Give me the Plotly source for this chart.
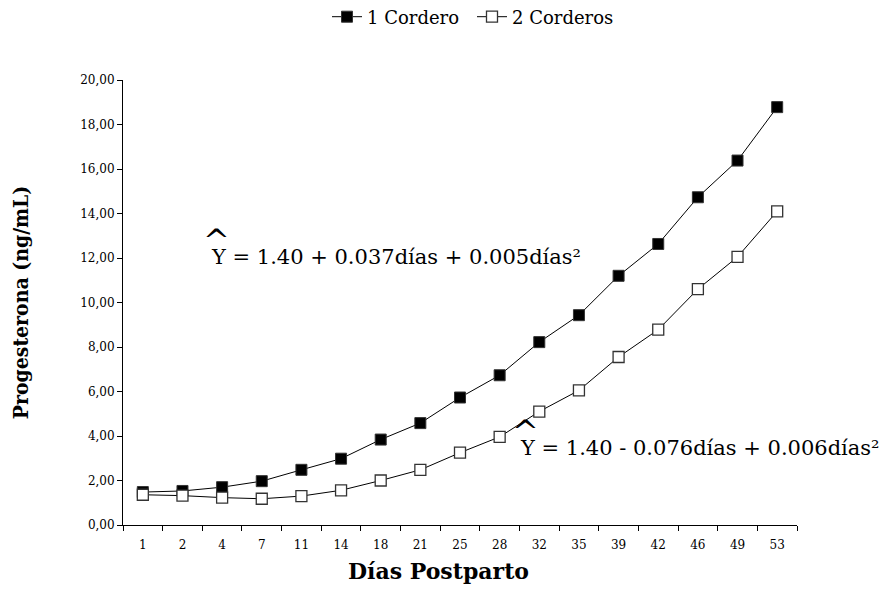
import plotly.graph_objects as go

dias = ["1", "2", "4", "7", "11", "14", "18", "21", "25", "28", "32", "35", "39", "42", "46", "49", "53"]
un_cordero = [1.48, 1.53, 1.70, 1.97, 2.48, 2.98, 3.84, 4.58, 5.73, 6.73, 8.22, 9.43, 11.20, 12.63, 14.73, 16.38, 18.78]
dos_corderos = [1.36, 1.32, 1.23, 1.18, 1.30, 1.56, 2.00, 2.48, 3.25, 3.96, 5.10, 6.05, 7.55, 8.78, 10.60, 12.05, 14.10]
y_ticks = [0, 2, 4, 6, 8, 10, 12, 14, 16, 18, 20]
y_ticktext = ["0,00", "2,00", "4,00", "6,00", "8,00", "10,00", "12,00", "14,00", "16,00", "18,00", "20,00"]
ecuacion_1 = "Y = 1.40 + 0.037días + 0.005días²"
ecuacion_2 = "Y = 1.40 - 0.076días + 0.006días²"
titulo_x = "<b>Días Postparto</b>"
titulo_y = "<b>Progesterona (ng/mL)</b>"

serif = "DejaVu Serif"
OFF = 8  # page body margin
W, H = 890 - OFF, 604 - OFF
L, R, T, B = 123 - OFF, 93, 80 - OFF, 79

fig = go.Figure()
fig.add_trace(go.Scatter(
    x=dias, y=un_cordero, mode="lines+markers", name="1 Cordero",
    line=dict(color="black", width=1),
    marker=dict(symbol="square", size=11, color="black", line=dict(color="#333", width=1)),
))
fig.add_trace(go.Scatter(
    x=dias, y=dos_corderos, mode="lines+markers", name="2 Corderos",
    line=dict(color="black", width=1),
    marker=dict(symbol="square", size=11, color="white", line=dict(color="#333", width=1.3)),
))


def px2paper(px, py):
    # screen pixel -> paper coordinates
    fx_px, fy_px = px - OFF, py - OFF
    return (fx_px - L) / (W - L - R), (H - B - fy_px) / (H - T - B)


def add_eq(px, py, text):
    fx, fy = px2paper(px, py)
    fig.add_annotation(x=fx, y=fy, xref="paper", yref="paper", xanchor="left", yanchor="middle",
                       text=text, showarrow=False, font=dict(family=serif, size=21, color="black"))
    hx, hy = px2paper(px + 7, py - 16)
    fig.add_annotation(x=hx, y=hy, xref="paper", yref="paper", xanchor="center", yanchor="middle",
                       text="^", showarrow=False, font=dict(family=serif, size=32, color="black"))


add_eq(209, 257, ecuacion_1)
add_eq(518, 448, ecuacion_2)

tx, ty = px2paper(438, 571)
fig.add_annotation(x=tx, y=ty, xref="paper", yref="paper", xanchor="center", yanchor="middle",
                   text=titulo_x, showarrow=False, font=dict(family=serif, size=22, color="black"))

lx, _ = px2paper(472, 0)
fig.update_layout(
    width=W, height=H,
    paper_bgcolor="white", plot_bgcolor="white",
    margin=dict(l=L, r=R, t=T, b=B, autoexpand=False),
    font=dict(family=serif, color="black", size=12),
    showlegend=True,
    legend=dict(orientation="h", x=lx, xanchor="center", y=1 - 9 / H, yref="container", yanchor="middle",
                font=dict(family=serif, size=18), itemwidth=30, tracegroupgap=0,
                entrywidth=100, entrywidthmode="pixels"),
    xaxis=dict(
        type="category", range=[-0.5, 16.5], showline=True, linecolor="black", linewidth=1,
        ticks="outside", tickson="boundaries", ticklen=5, tickcolor="black", automargin=False,
        ticklabelstandoff=9,
        showgrid=False, zeroline=False, tickfont=dict(family=serif, size=12),
    ),
    yaxis=dict(
        range=[0, 20], tickvals=y_ticks, ticktext=y_ticktext, showline=True, linecolor="black", linewidth=1,
        ticks="outside", ticklen=5, tickcolor="black", showgrid=False, zeroline=False, automargin=False,
        tickfont=dict(family=serif, size=12),
        title=dict(text=titulo_y, font=dict(family="DejaVu Serif Condensed", size=21), standoff=45),
    ),
)

fig.write_html("out.html")
